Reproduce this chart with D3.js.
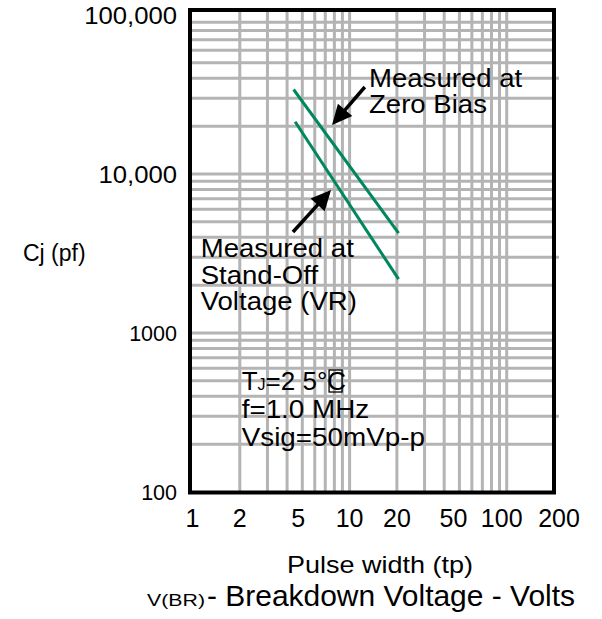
<!DOCTYPE html>
<html>
<head>
<meta charset="utf-8">
<script src="https://cdn.jsdelivr.net/npm/d3@7"></script>
<style>
  html, body { margin: 0; padding: 0; background: #fff; }
  svg { display: block; }
  text { font-family: "Liberation Sans", Arial, Helvetica, sans-serif; fill: #000; }
</style>
</head>
<body>
<svg id="chart" width="602" height="619"></svg>
<script>
// ---------- data ----------
const xTicks = [1, 2, 5, 10, 20, 50, 100, 200];
const xTickLabels = ["1", "2", "5", "10", "20", "50", "100", "200"];
const yTicks = [100, 1000, 10000, 100000];
const yTickLabels = ["100", "1000", "10,000", "100,000"];
const xGrid = [2, 3, 4, 5, 6, 7, 8, 9, 10, 20, 30, 40, 50, 60, 70, 80, 90, 100];
const yGrid = [200, 300, 400, 500, 600, 700, 800, 900, 1000,
               2000, 3000, 4000, 5000, 6000, 7000, 8000, 9000, 10000,
               20000, 30000, 40000, 50000, 60000, 70000, 80000, 90000];
const yGridExtended = [300, 3000, 40000];
// series: Cj (pF) vs V(BR)
const zeroBiasX = [4.4, 20.5];
const zeroBiasY = [34000, 4250];
const standOffX = [4.5, 20.5];
const standOffY = [21300, 2180];
// annotation anchors (data units)
const zeroBiasArrow = [[12.5, 35250], [7.73, 20330]];
const standOffArrow = [[4.36, 4315], [7.62, 7930]];
const zeroBiasText = ["Measured at", "Zero Bias"];
const zeroBiasTextAt = [13.3, [35250, 24200]];
const standOffText = ["Measured at", "Stand-Off", "Voltage (VR)"];
const standOffTextAt = [1.128, [3020, 2033, 1396]];
const condTextAt = [2.056, [438, 293, 195]];

// ---------- layout ----------
const svg = d3.select("#chart");
const frame = { left: 190, top: 10, right: 554, bottom: 492.5 };
const x = d3.scaleLog().domain([1, 200]).range([192.5, 554]);
const y = d3.scaleLog().domain([100, 100000]).range([492, 15]);
const gridColor = "#b4b4b4";
const green = "#00875f";
const xLabelNudge = [0, 0, -4, 0, 0, -6, -5, 5];
const yLabelSize = [21.5, 21.5, 24, 24];
const yLabelStretch = [1, 1, 1.07, 1.07];

function txt(g, px, py, s, size, stretch, anchor, width) {
  const t = g.append("text").attr("x", px).attr("y", py)
    .attr("font-size", size).attr("text-anchor", anchor || "start").text(s);
  if (width) {
    t.attr("textLength", width).attr("lengthAdjust", "spacingAndGlyphs");
  } else if (stretch && stretch !== 1) {
    const L = t.node().getComputedTextLength();
    t.attr("textLength", L * stretch).attr("lengthAdjust", "spacingAndGlyphs");
  }
  return t;
}

// grid
const grid = svg.append("g");
grid.selectAll("line.v").data(xGrid).join("line")
  .attr("x1", d => x(d)).attr("x2", d => x(d))
  .attr("y1", frame.top).attr("y2", frame.bottom)
  .attr("stroke", gridColor).attr("stroke-width", 3);
grid.selectAll("line.h").data(yGrid).join("line")
  .attr("x1", frame.left).attr("x2", d => yGridExtended.includes(d) ? frame.right + 5 : frame.right)
  .attr("y1", d => y(d)).attr("y2", d => y(d))
  .attr("stroke", gridColor).attr("stroke-width", 3);

// series lines
const line = d3.line().x(d => x(d[0])).y(d => y(d[1]));
[[zeroBiasX, zeroBiasY], [standOffX, standOffY]].forEach(([xs, ys]) => {
  svg.append("path").datum(xs.map((v, i) => [v, ys[i]]))
    .attr("d", line).attr("fill", "none")
    .attr("stroke", green).attr("stroke-width", 3);
});

// frame
svg.append("rect").attr("x", frame.left).attr("y", frame.top)
  .attr("width", frame.right - frame.left).attr("height", frame.bottom - frame.top)
  .attr("fill", "none").attr("stroke", "#000").attr("stroke-width", 4);

// arrows
function arrow(pts) {
  const [x0, y0] = [x(pts[0][0]), y(pts[0][1])];
  const [x1, y1] = [x(pts[1][0]), y(pts[1][1])];
  const dx = x1 - x0, dy = y1 - y0, len = Math.hypot(dx, dy);
  const ux = dx / len, uy = dy / len;
  const hl = 20, hw = 9.5;
  const bx = x1 - ux * hl, by = y1 - uy * hl;
  svg.append("line").attr("x1", x0).attr("y1", y0).attr("x2", bx + ux * 2).attr("y2", by + uy * 2)
    .attr("stroke", "#000").attr("stroke-width", 3.5);
  svg.append("polygon")
    .attr("points", [[x1, y1], [bx - uy * hw, by + ux * hw], [bx + uy * hw, by - ux * hw]].map(p => p.join(",")).join(" "))
    .attr("fill", "#000");
}
arrow(zeroBiasArrow);
arrow(standOffArrow);

// annotation text
const ann = svg.append("g");
zeroBiasText.forEach((s, i) => txt(ann, x(zeroBiasTextAt[0]), y(zeroBiasTextAt[1][i]), s, 25.5, 1.08));
standOffText.forEach((s, i) => txt(ann, x(standOffTextAt[0]), y(standOffTextAt[1][i]), s, 25.5, 1.08));

// conditions
const c0 = txt(ann, x(condTextAt[0]), y(condTextAt[1][0]), "", 26, 1);
c0.append("tspan").text("T");
c0.append("tspan").attr("font-size", 16).text("J");
c0.append("tspan").text("=2 5°C");
const cb = c0.node().getBBox();
ann.append("rect").attr("x", cb.x + cb.width - 17).attr("y", cb.y + 4)
  .attr("width", 13).attr("height", cb.height - 8)
  .attr("fill", "none").attr("stroke", "#000").attr("stroke-width", 1.3);
txt(ann, x(condTextAt[0]), y(condTextAt[1][1]), "f=1.0 MHz", 26, 1.07);
txt(ann, x(condTextAt[0]), y(condTextAt[1][2]), "Vsig=50mVp-p", 26, 1.07);

// axis tick labels
const ax = svg.append("g");
xTicks.forEach((v, i) => txt(ax, x(v) + xLabelNudge[i], 527, xTickLabels[i], 25, 1, "middle"));
yTicks.forEach((v, i) => txt(ax, 177, y(v) + yLabelSize[i] * 0.355, yTickLabels[i], yLabelSize[i], yLabelStretch[i], "end"));

// axis titles
txt(ax, 23, 261, "Cj (pf)", 23, 1);
txt(ax, 380, 573, "Pulse width (tp)", 24.5, 1, "middle", 186);
txt(ax, 147, 606, "V(BR)", 17, 1, "start", 58);
txt(ax, 207, 606, "- Breakdown Voltage - Volts", 29.5, 1, "start", 368);
</script>
</body>
</html>
